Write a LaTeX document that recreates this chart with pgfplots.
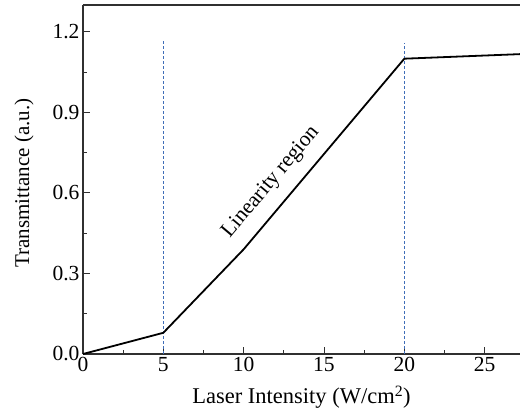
\documentclass[border=0pt]{standalone}
\usepackage{fontspec}
\setmainfont{Liberation Serif}
\usepackage{pgfplots}
\pgfplotsset{compat=1.18}
\definecolor{dashblue}{HTML}{3F6DB8}
\definecolor{axgray}{HTML}{303030}
\begin{document}
\begin{tikzpicture}
\begin{axis}[
  scale only axis,
  width=437pt, height=349pt,
  xmin=0, xmax=27.2, ymin=0, ymax=1.3,
  axis x line*=bottom, axis y line*=left,
  axis line style={axgray, line width=1.1pt},
  xtick={0,5,10,15,20,25},
  ytick={0,0.3,0.6,0.9,1.2},
  minor x tick num=1, minor y tick num=1,
  tick align=inside,
  major tick length=7pt, minor tick length=4pt,
  tick style={axgray, line width=0.9pt},
  font=\fontsize{21.5}{25}\selectfont,
  /pgf/number format/assume math mode=true,
  yticklabel style={/pgf/number format/fixed, /pgf/number format/fixed zerofill, /pgf/number format/precision=1},
  xlabel={Laser Intensity (W/cm\textsuperscript{2})},
  ylabel={Transmittance (a.u.)},
  xlabel style={at={(axis description cs:0.5,-0.143)}, anchor=base, font=\fontsize{22.5}{26}\selectfont},
  ylabel style={at={(axis description cs:-0.135,0.49)}, anchor=center, font=\fontsize{21}{25}\selectfont},
  clip=false,
]
\draw[axgray, line width=1.1pt] (rel axis cs:0,1) -- (rel axis cs:1,1);
\addplot[dashblue, line width=1pt, dash pattern=on 3pt off 2pt] coordinates {(5,0) (5,1.165)};
\addplot[dashblue, line width=1pt, dash pattern=on 3pt off 2pt] coordinates {(20,0) (20,1.16)};
\addplot[black, line width=1.8pt] coordinates {(0,0) (5,0.079) (10,0.39) (20,1.10) (27.2,1.117)};
\node[rotate=50] at (axis cs:11.7,0.64) {Linearity region};
\end{axis}
\pgfresetboundingbox
\path ([shift={(-83pt,-56pt)}]current axis.south west) rectangle ([shift={(0pt,5pt)}]current axis.north east);
\end{tikzpicture}
\end{document}
